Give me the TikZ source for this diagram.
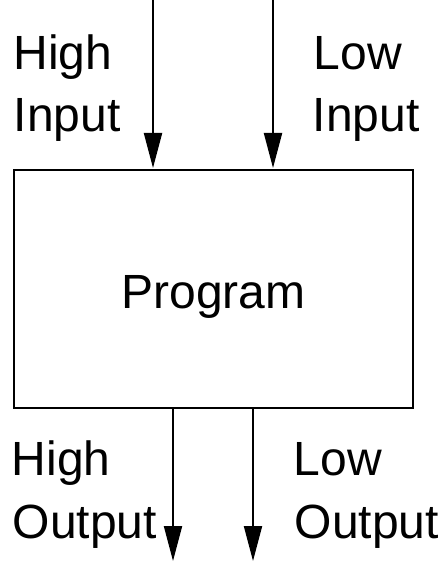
\documentclass[tikz,border=0pt]{standalone}
\usepackage{fontspec}
\setmainfont{Liberation Sans}
\usetikzlibrary{arrows.meta}
\begin{document}
\begin{tikzpicture}[x=1pt,y=1pt,
  lbl/.style={font=\fontsize{48}{57}\selectfont, inner sep=0pt, anchor=base west},
  flow/.style={line width=2pt, -{Triangle[length=35pt,width=18pt]}}]
\useasboundingbox (0,0) rectangle (443,-561);
\node[draw, line width=2pt, minimum width=399pt, minimum height=238pt, inner sep=0pt] (prog) at (213.5,-289) {};
\node[font=\fontsize{48}{57}\selectfont, inner sep=0pt, anchor=base] (progtxt) at (213.5,-308) {Program};
\coordinate (hin) at (153,0);
\coordinate (lin) at (273,0);
\coordinate (hout) at (173,-561);
\coordinate (lout) at (253,-561);
\draw[flow, shorten >=1pt] (hin) -- (hin |- prog.north);
\draw[flow, shorten >=1pt] (lin) -- (lin |- prog.north);
\draw[flow] (hout |- prog.south) -- (hout);
\draw[flow] (lout |- prog.south) -- (lout);
\node[lbl] (hi1) at (13.2,-70) {High};
\node[lbl] (hi2) at (13.5,-132) {Input};
\node[lbl] (li1) at (313.5,-70) {Low};
\node[lbl] (li2) at (312.5,-132) {Input};
\node[lbl] (ho1) at (11.5,-475) {High};
\node[lbl] (ho2) at (12.7,-538) {Output};
\node[lbl] (lo1) at (293.5,-475) {Low};
\node[lbl] (lo2) at (294.7,-538) {Output};
\end{tikzpicture}
\end{document}
